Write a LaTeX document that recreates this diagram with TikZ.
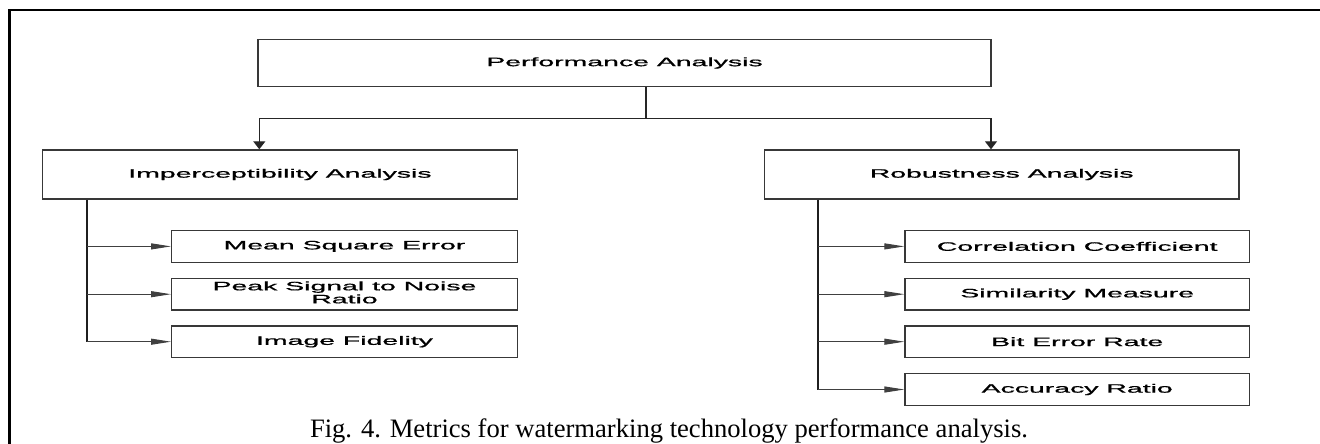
\documentclass[tikz,border=0pt]{standalone}
\usepackage{fontspec}
\setmainfont{Liberation Serif}
\newfontfamily\boxfont[FakeBold=0.7]{Liberation Sans}
\usetikzlibrary{arrows.meta}
\newcommand{\bxtext}[1]{\scalebox{2.33}[1]{\boxfont\fontsize{12.2}{13}\selectfont #1}}
\tikzset{
  box/.style={draw=black!78, line width=1.4pt, fill=white, inner sep=0pt, align=center},
  topbox/.style={box, minimum width=733pt, minimum height=47.4pt},
  midbox/.style={box, minimum width=474.6pt, minimum height=49pt},
  leafL/.style={box, minimum width=345.6pt, minimum height=31.8pt},
  leafR/.style={box, minimum width=344.3pt, minimum height=31.8pt},
  conn/.style={draw=black!85, line width=1.3pt},
  trunk/.style={draw=black!88, line width=1.9pt},
  downarr/.style={conn, -{Triangle[length=8pt,width=12pt]}},
  brarr/.style={draw=black!75, line width=1pt, -{Triangle[length=20pt,width=6pt]}},
  frame/.style={draw=black, line width=2.4pt}
}
\begin{document}
\begin{tikzpicture}[x=1pt,y=-1pt]
\useasboundingbox (0,0) rectangle (1320,444);
\clip (0,0) rectangle (1320,444);
% outer frame (only left and top sides fall in view)
\coordinate (fbl) at (9.3,460);
\coordinate (ftl) at (9.3,10);
\coordinate (ftr) at (1340,10);
\draw[frame] (fbl) -- (ftl) -- (ftr);

\node[topbox] (P) at (624.5,63) {\bxtext{Performance Analysis}};
\node[midbox] (L) at (280,174.5) {\bxtext{Imperceptibility Analysis}};
\node[midbox] (R) at (1001.7,174.5) {\bxtext{Robustness Analysis}};

\node[leafL] (L1) at (344.5,246.4) {\bxtext{Mean Square Error}};
\node[leafL] (L2) at (344.5,294.2) {\bxtext{\begin{tabular}{@{}c@{}}Peak Signal to Noise\\Ratio\end{tabular}}};
\node[leafL] (L3) at (344.5,341.7) {\bxtext{Image Fidelity}};

\node[leafR] (R1) at (1077.2,246.4) {\bxtext{Correlation Coefficient}};
\node[leafR] (R2) at (1077.2,294.2) {\bxtext{Similarity Measure}};
\node[leafR] (R3) at (1077.2,341.7) {\bxtext{Bit Error Rate}};
\node[leafR] (R4) at (1077.2,389.5) {\bxtext{Accuracy Ratio}};

% top connectors
\coordinate (sx) at (646,0);
\coordinate (j) at (646,118.3);
\coordinate (lx) at (259.3,0);
\coordinate (rx) at (991,0);
\draw[conn] (P.south -| sx) -- (j);
\draw[downarr] (j) -| (L.north -| lx);
\draw[downarr] (j) -| (R.north -| rx);

% left trunk
\coordinate (tl) at (86.7,0);
\draw[trunk] (L.south -| tl) -- (L3.west -| tl);
\draw[brarr] (L1.west -| tl) -- (L1.west);
\draw[brarr] (L2.west -| tl) -- (L2.west);
\draw[brarr] (L3.west -| tl) -- (L3.west);

% right trunk
\coordinate (tr) at (818.3,0);
\draw[trunk] (R.south -| tr) -- (R4.west -| tr);
\draw[brarr] (R1.west -| tr) -- (R1.west);
\draw[brarr] (R2.west -| tr) -- (R2.west);
\draw[brarr] (R3.west -| tr) -- (R3.west);
\draw[brarr] (R4.west -| tr) -- (R4.west);

\node[anchor=base, inner sep=0pt, font=\fontsize{26.6}{30}\selectfont] (cap) at (669,437) {Fig. 4. Metrics for watermarking technology performance analysis.};
\end{tikzpicture}
\end{document}
